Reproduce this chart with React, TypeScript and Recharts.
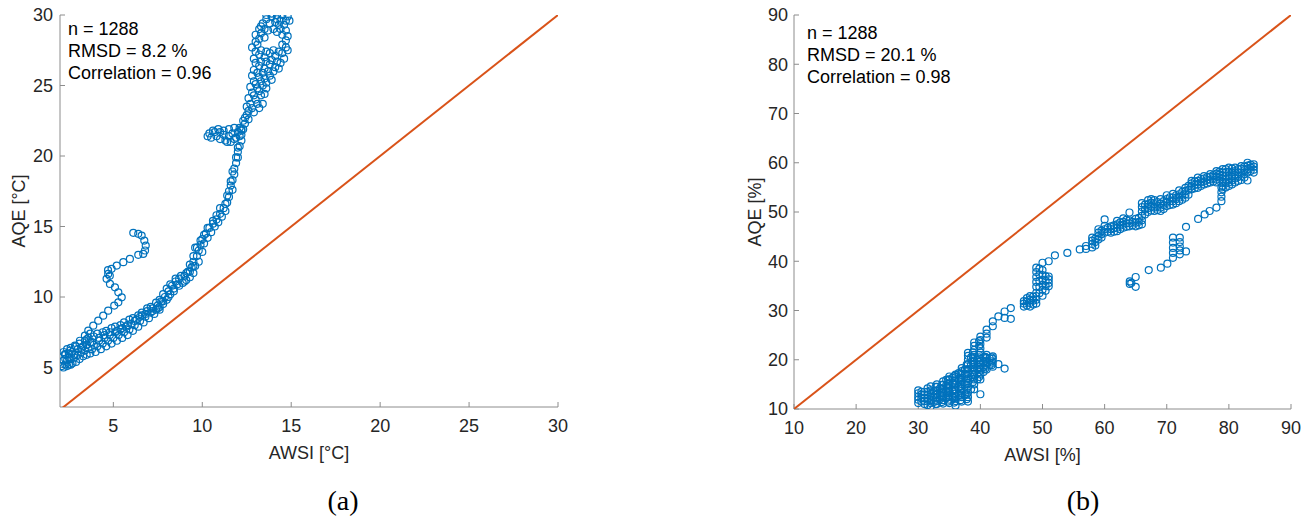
import { ScatterChart, Scatter, XAxis, YAxis, Label } from 'recharts';

type Pt = [number, number];

const tempTicks = [5, 10, 15, 20, 25, 30];
const humTicks = [10, 20, 30, 40, 50, 60, 70, 80, 90];

const tempStats = ['n = 1288', 'RMSD = 8.2 %', 'Correlation = 0.96'];
const humStats = ['n = 1288', 'RMSD = 20.1 %', 'Correlation = 0.98'];

const tempIdentity: Pt[] = [[2, 2], [30, 30]];
const humIdentity: Pt[] = [[10, 10], [90, 90]];

// (a) main band, low part
const tempBand: Pt[] = [
  [2.1, 5.1], [2.2, 5.5], [2.3, 5.2], [2.3, 5.9], [2.4, 5.5], [2.5, 5.2], [2.5, 6.0], [2.6, 5.6],
  [2.7, 5.3], [2.7, 6.1], [2.8, 5.7], [2.9, 5.4], [3.0, 5.9], [3.0, 6.3], [3.1, 5.6], [3.2, 6.1],
  [3.3, 5.8], [3.3, 6.5], [3.4, 6.2], [3.5, 5.9], [3.6, 6.4], [3.7, 6.0], [3.7, 6.8], [3.8, 6.3],
  [3.9, 6.6], [4.0, 6.1], [4.1, 6.5], [4.2, 6.9], [4.3, 6.3], [4.4, 6.7], [4.5, 7.1], [4.6, 6.5],
  [4.7, 6.9], [4.8, 7.3], [4.9, 6.7], [5.0, 7.1], [5.1, 7.5], [5.2, 6.9], [5.3, 7.3], [5.4, 7.7],
  [5.5, 7.1], [5.6, 7.5], [5.7, 7.9], [5.8, 7.3], [5.9, 7.7], [6.0, 8.1], [6.1, 7.6], [6.2, 8.0],
  [6.3, 8.4], [6.4, 7.9], [6.5, 8.3], [6.6, 8.7], [6.7, 8.2], [6.8, 8.6], [6.9, 9.0], [7.0, 8.5],
  [7.1, 8.9], [7.2, 9.2], [7.3, 8.8], [7.4, 9.1], [7.5, 9.4], [7.6, 9.1], [7.6, 9.3], [7.7, 9.7],
  [7.8, 9.5], [7.9, 10.0], [8.0, 9.8], [8.1, 10.4], [8.2, 10.2], [8.3, 10.8], [8.4, 10.6], [8.5, 11.1],
  [8.6, 10.9], [8.7, 11.3], [8.9, 11.0], [9.0, 11.5], [9.1, 11.2], [9.2, 11.8], [9.3, 11.4], [9.4, 12.1],
  [9.5, 11.7], [9.5, 12.5], [9.6, 12.2], [9.7, 12.9], [9.8, 12.5], [9.8, 13.3],
];

// (a) upper edge and middle of the low band
const tempBandUpper: Pt[] = [
  [2.2, 6.1], [2.4, 6.3], [2.6, 6.4], [2.9, 6.5], [3.1, 6.7], [3.4, 6.9], [3.6, 7.1], [3.9, 7.2],
  [4.1, 7.4], [4.4, 7.5], [4.6, 7.6], [4.9, 7.8], [5.1, 7.9], [5.4, 8.0], [5.6, 8.2], [5.9, 8.4],
  [6.1, 8.5], [6.4, 8.7], [6.6, 8.9], [6.9, 9.2], [7.1, 9.3], [7.4, 9.6], [7.6, 9.8], [7.8, 10.2],
  [8.0, 10.6], [8.2, 10.9], [8.5, 11.3], [8.8, 11.5], [9.1, 11.7], [9.3, 12.3], [9.5, 12.9], [9.6, 13.5],
];
const tempBandMid: Pt[] = [
  [2.2, 5.0], [2.4, 5.1], [2.6, 5.2], [2.3, 5.6], [2.5, 5.7], [2.8, 5.9], [3.2, 6.4], [3.5, 6.6],
  [3.8, 6.8], [4.2, 7.1], [4.5, 7.3], [4.8, 7.5], [5.2, 7.6], [5.5, 7.8], [5.8, 8.0], [6.2, 8.3],
  [6.5, 8.6], [6.8, 8.8], [7.2, 9.0], [7.5, 9.2], [7.8, 9.7], [8.1, 10.0], [8.4, 10.4], [8.7, 10.8],
  [9.0, 11.1], [9.3, 11.8], [9.5, 12.2],
];

// (a) rising path up to the top cluster
const tempRise: Pt[] = [
  [9.9, 13.7], [10.0, 13.2], [10.0, 14.1], [10.1, 13.8], [10.2, 14.5], [10.3, 14.2], [10.4, 14.9],
  [10.5, 14.6], [10.6, 15.2], [10.7, 15.0], [10.8, 15.5], [10.9, 15.3], [11.0, 15.9], [11.1, 15.7],
  [11.2, 16.3], [11.3, 16.1], [11.4, 16.7], [11.5, 17.1], [11.5, 17.5], [11.6, 17.9], [11.7, 17.6],
  [11.7, 18.3], [11.8, 18.7], [11.8, 19.1], [11.9, 19.5], [12.0, 19.9], [12.0, 20.3], [12.1, 20.7],
  [12.2, 21.1], [12.2, 21.5], [12.3, 21.9], [12.4, 22.3], [12.4, 22.7],
  [9.7, 13.5], [9.9, 14.0], [10.1, 14.4], [10.3, 14.9], [10.6, 15.4], [10.8, 15.8], [11.0, 16.3],
  [11.3, 16.6], [11.4, 17.2], [11.6, 18.2], [11.7, 18.9], [11.9, 19.9], [12.0, 20.6], [12.2, 21.9],
  [12.3, 22.5], [12.5, 22.9], [12.6, 22.6],
];

const tempOffshoot: Pt[] = [
  [10.4, 21.6], [10.5, 21.3], [10.7, 21.7], [10.8, 21.4], [11.0, 21.7], [11.0, 21.2], [11.2, 21.5],
  [11.3, 21.1], [11.5, 21.4], [11.6, 21.0], [11.7, 21.6], [11.9, 21.3], [12.0, 21.7], [12.1, 22.0],
  [11.8, 22.0], [10.6, 21.8], [10.9, 21.9], [11.2, 21.8], [11.5, 21.9], [11.4, 21.0], [11.8, 21.2],
  [12.1, 21.4], [12.2, 21.8], [10.3, 21.4],
];

const tempTop: Pt[] = [
  [12.6, 23.2], [12.9, 23.1], [13.2, 23.4], [13.4, 23.7], [12.7, 23.7], [13.0, 24.0], [13.3, 24.3],
  [12.8, 24.5], [13.1, 24.8], [13.4, 25.0], [13.6, 24.8], [12.9, 25.3], [13.2, 25.6], [13.5, 25.5],
  [13.8, 25.7], [12.9, 26.1], [13.2, 26.4], [13.5, 26.2], [13.8, 26.5], [14.1, 26.3], [14.4, 26.6],
  [12.9, 26.9], [13.2, 27.2], [13.5, 27.0], [13.8, 27.3], [14.1, 27.1], [14.5, 27.3], [14.7, 27.7],
  [12.8, 27.7], [13.0, 28.1], [14.7, 28.2], [14.5, 28.6], [14.2, 28.8], [13.0, 28.6], [13.2, 29.0],
  [13.4, 29.4], [13.6, 29.7], [13.9, 29.9], [14.2, 30.0], [14.5, 30.0], [14.8, 29.9], [14.9, 29.6],
  [14.6, 29.3], [14.3, 29.3], [14.0, 29.0], [13.7, 28.9], [13.5, 28.4],
  [12.5, 23.5], [12.8, 23.4], [13.1, 23.7], [12.6, 24.1], [12.9, 24.3], [13.2, 24.6], [13.5, 24.4],
  [12.7, 24.9], [13.0, 25.1], [13.3, 25.3], [13.6, 25.2], [13.9, 25.4], [12.8, 25.7], [13.1, 25.9],
  [13.4, 25.9], [13.7, 26.0], [14.0, 26.0], [14.3, 26.2], [13.0, 26.6], [13.3, 26.7], [13.6, 26.7],
  [13.9, 26.8], [14.2, 26.7], [14.6, 26.9], [13.0, 27.4], [13.3, 27.5], [13.6, 27.4], [14.0, 27.5],
  [14.3, 27.4], [14.8, 27.5], [13.1, 27.9], [14.5, 27.9], [14.8, 28.5], [13.2, 28.3], [13.3, 28.7],
  [14.4, 29.0], [14.7, 28.9], [13.3, 29.2], [13.5, 29.0], [13.8, 29.4], [14.1, 29.5], [14.4, 29.6],
  [14.7, 29.6], [13.6, 30.0], [13.9, 30.1], [14.2, 29.7],
];

// (a) sparse arm on the left
const tempArm: Pt[] = [
  [2.28, 5.96], [2.56, 6.19], [2.84, 6.55], [3.12, 6.9], [3.4, 7.26], [3.59, 7.61], [3.87, 7.97],
  [4.15, 8.32], [4.43, 8.68], [4.71, 9.03], [5.05, 9.39], [5.28, 9.62], [5.47, 9.98], [5.28, 10.33],
  [5.09, 10.69], [4.81, 10.93], [4.62, 11.29], [4.71, 11.64], [4.9, 12.0], [5.19, 12.23],
  [5.56, 12.47], [5.93, 12.7], [6.4, 12.99], [6.68, 13.06], [6.78, 13.3], [6.82, 13.65], [6.74, 14.0],
  [6.59, 14.36], [6.4, 14.48], [6.12, 14.55], [4.8, 11.5], [4.7, 11.9], [3.5, 7.0], [3.7, 7.4],
];

// (b) low cluster, columns of x with their y values
const humLowColumns: [number, number[]][] = [
  [30, [11.2, 11.9, 12.5, 13.2, 13.8]],
  [30.5, [11.5, 12.2, 12.9, 13.5]],
  [31, [11.0, 11.6, 12.2, 12.9, 13.5]],
  [31.5, [10.8, 11.5, 12.1, 12.8, 13.5, 14.2]],
  [32, [10.5, 11.2, 11.8, 12.5, 13.1, 13.8, 14.6]],
  [32.5, [11.4, 12.3, 13.6]],
  [32.8, [11.0, 11.9, 12.8, 13.7, 14.5]],
  [33, [11.0, 11.6, 12.3, 13.0, 13.8, 14.5, 15.0]],
  [33.5, [12.0, 13.2, 14.2]],
  [33.8, [11.4, 12.3, 13.2, 14.0, 14.9]],
  [34, [11.1, 11.8, 12.6, 13.3, 14.1, 14.9, 15.6]],
  [34.5, [12.2, 13.5, 14.8, 15.9]],
  [34.8, [11.5, 12.4, 13.3, 14.2, 15.1, 16.0]],
  [35, [11.2, 11.9, 12.7, 13.5, 14.3, 15.1, 15.9, 16.6]],
  [35.5, [12.5, 13.8, 15.2, 16.3]],
  [35.8, [11.3, 12.2, 13.1, 14.0, 14.9, 15.8, 16.7]],
  [36, [10.7, 11.6, 12.4, 13.2, 14.0, 14.9, 15.7, 16.5, 17.0]],
  [36.5, [12.8, 14.4, 16.1, 17.3]],
  [36.8, [11.8, 12.7, 13.6, 14.5, 15.4, 16.3, 17.2]],
  [37, [11.5, 12.4, 13.3, 14.2, 15.1, 16.0, 16.9, 17.7, 18.3]],
  [37.5, [13.0, 15.0, 17.0, 18.0]],
  [37.8, [12.0, 13.0, 14.0, 15.0, 16.0, 17.0, 18.0, 19.0]],
  [38, [11.5, 12.4, 13.3, 14.3, 15.3, 16.2, 17.2, 18.1, 19.1, 20.0, 20.8, 21.4]],
  [38.5, [14.0, 16.5, 19.0, 20.5]],
  [38.8, [15.5, 16.5, 17.5, 18.5, 19.5, 20.5, 21.5]],
  [39, [14.0, 15.0, 16.0, 17.0, 18.0, 19.0, 19.8, 21.0, 22.0, 22.8, 23.5]],
  [39.5, [16.0, 18.0, 20.0]],
  [39.8, [16.5, 17.5, 18.5, 19.5, 20.5, 21.0, 22.8, 23.8]],
  [40, [13.0, 16.0, 17.0, 18.0, 19.0, 19.8, 21.5, 22.3, 23.2, 24.0, 24.7]],
  [40.5, [17.5, 18.5, 19.5, 20.5]],
  [40.8, [18.2, 19.0, 19.8, 20.6]],
  [41, [18.0, 18.8, 19.6, 20.4, 21.0, 24.5, 25.3, 26.1]],
  [41.5, [19.0, 20.3]],
  [41.8, [18.9, 19.7, 20.5]],
  [42, [18.6, 19.4, 20.2, 20.7, 26.8, 27.8]],
  [42.9, [19.1, 28.8]],
  [43.9, [18.2, 28.5, 29.8]],
  [44.9, [28.3, 30.5]],
];

// (b) upper band
const humBandColumns: [number, number[]][] = [
  [47, [30.8, 31.4, 31.9]],
  [47.5, [31.0, 31.8, 32.5]],
  [48, [30.8, 31.5, 32.2, 32.9]],
  [48.5, [31.2, 32.0, 32.8]],
  [49, [31.4, 32.2, 32.9, 33.6, 34.8, 35.8, 36.8, 37.8, 38.7]],
  [49.5, [33.5, 34.8, 36.0, 37.3, 38.5]],
  [50, [33.0, 34.2, 35.2, 36.2, 37.2, 38.2, 39.7]],
  [50.5, [34.0, 35.0, 36.0, 37.0]],
  [51, [34.9, 35.6, 36.3, 36.9, 40.0]],
  [52, [41.2]],
  [54, [41.7]],
  [56, [42.4]],
  [57, [42.5, 43.1]],
  [58, [42.8, 43.5, 44.2, 44.8]],
  [58.5, [43.2, 43.9, 44.6]],
  [59, [44.4, 45.1, 45.8, 46.5]],
  [59.5, [44.8, 45.5, 46.2]],
  [60, [45.8, 46.5, 47.2, 48.5]],
  [60.5, [46.0, 46.8]],
  [61, [45.8, 46.5, 47.1]],
  [61.5, [46.0, 46.7, 47.3]],
  [62, [46.1, 46.8, 47.5, 48.2]],
  [62.5, [46.5, 47.2, 47.9]],
  [63, [46.8, 47.4, 48.0, 48.7]],
  [63.5, [47.0, 47.7, 48.4]],
  [64, [47.1, 47.7, 48.3, 49.9]],
  [64.5, [47.3, 48.0]],
  [65, [47.1, 47.8, 48.6]],
  [65.5, [47.3, 48.0, 48.8]],
  [66, [47.5, 48.3, 49.2, 50.1, 51.0, 51.8]],
  [66.5, [49.5, 50.5, 51.5]],
  [67, [50.0, 50.8, 51.6, 52.4]],
  [67.5, [50.3, 51.1, 51.9, 52.6]],
  [68, [50.2, 50.9, 51.6, 52.4]],
  [68.5, [50.4, 51.2, 52.0]],
  [69, [50.2, 50.9, 51.7, 52.6]],
  [69.5, [50.6, 51.4, 52.2]],
  [70, [51.2, 51.9, 52.6, 53.4]],
  [70.5, [51.4, 52.2, 53.0]],
  [71, [51.5, 52.2, 52.9, 53.7]],
  [71.5, [51.8, 52.6, 53.4]],
  [72, [52.2, 52.9, 53.6, 54.4]],
  [72.5, [52.5, 53.3, 54.1]],
  [73, [52.9, 53.6, 54.3, 54.9]],
  [73.5, [53.5, 54.5, 55.3]],
  [74, [54.6, 55.2, 55.8, 56.3]],
  [74.5, [54.8, 55.5, 56.2]],
  [75, [54.9, 55.6, 56.3, 57.0]],
  [75.5, [55.3, 56.0, 56.7]],
  [76, [55.6, 56.2, 56.8, 57.3]],
  [76.5, [55.8, 56.5, 57.1]],
  [77, [56.0, 56.6, 57.2, 57.7]],
  [77.5, [56.2, 56.9, 57.5]],
  [78, [56.0, 56.6, 57.2, 57.8, 58.3]],
  [78.5, [56.3, 57.0, 57.6, 58.2]],
  [79, [54.6, 55.3, 56.0, 56.7, 57.4, 58.0, 58.7]],
  [79.5, [55.0, 55.8, 56.5, 57.3, 58.1, 58.7]],
  [80, [55.3, 56.0, 56.7, 57.4, 58.2, 59.0]],
  [80.5, [55.6, 56.4, 57.2, 58.0, 58.8]],
  [81, [56.0, 56.8, 57.5, 58.3, 59.0]],
  [81.5, [56.3, 57.1, 58.0, 58.7]],
  [82, [56.5, 57.3, 58.0, 58.8, 59.3]],
  [82.5, [57.0, 57.7, 58.5, 59.2]],
  [83, [56.4, 58.0, 58.7, 59.4, 60.0]],
  [83.5, [58.3, 59.0, 59.6]],
  [84, [58.0, 58.6, 59.2, 59.7]],
];

// (b) branch dropping below the band
const humBranch: Pt[] = [
  [78.8, 55.0], [78.8, 54.0], [78.8, 53.1], [78.8, 52.2], [78.0, 50.9], [76.9, 50.2], [76.1, 49.5],
  [75.05, 48.6], [73.1, 47.0], [72.1, 44.8], [72.1, 43.9], [72.1, 43.0], [72.1, 42.2], [72.1, 41.4],
  [71.0, 44.8], [71.0, 43.8], [71.0, 42.7], [71.0, 41.7], [71.0, 40.7], [73.1, 42.0], [70.1, 39.5],
  [69.05, 38.7], [67.1, 38.2], [65.0, 36.8], [65.0, 34.8], [64.05, 35.4], [64.05, 35.9], [64.3, 35.6],
];

const toXY = (pts: Pt[]) => pts.map(([x, y]) => ({ x, y }));
const fromColumns = (cols: [number, number[]][]) =>
  cols.flatMap(([x, ys]) => ys.map((y) => ({ x, y })));

const tempPoints = toXY([
  ...tempBand, ...tempBandUpper, ...tempBandMid, ...tempRise, ...tempOffshoot, ...tempTop, ...tempArm,
]);
const humPoints = [...fromColumns(humLowColumns), ...fromColumns(humBandColumns), ...toXY(humBranch)];

const BLUE = '#0072BD';
const ORANGE = '#D95319';
const AXIS = '#8c8c8c';
const TEXT = '#262626';
const FONT = '"Liberation Sans", Arial, Helvetica, sans-serif';

const Ring = (props: any) => (
  <circle cx={props.cx} cy={props.cy} r={3.5} fill="none" stroke={BLUE} strokeWidth={1.2} />
);
const NoDot = () => <g />;

const tickStyle = { fill: TEXT, fontSize: 18, fontFamily: FONT };

export default function App() {
  return (
    <div style={{ position: 'absolute', left: 0, top: 0, width: 1312, height: 518, background: '#fff', fontFamily: FONT }}>
      <div style={{ position: 'absolute', left: 0, top: 0 }}>
        <ScatterChart width={656} height={518} margin={{ top: 15, right: 98, bottom: 51, left: 0 }}>
          <XAxis type="number" dataKey="x" domain={[2, 30]} ticks={tempTicks} allowDataOverflow interval={0}
            height={60} tickSize={-5} tickMargin={17} axisLine={{ stroke: AXIS }} tickLine={{ stroke: AXIS }} tick={tickStyle}>
            <Label value="AWSI [°C]" position="insideBottom" offset={8} fill={TEXT} fontSize={18} fontFamily={FONT} />
          </XAxis>
          <YAxis type="number" dataKey="y" domain={[2.2, 30]} ticks={tempTicks} allowDataOverflow interval={0}
            width={60} tickSize={-5} tickMargin={12} axisLine={{ stroke: AXIS }} tickLine={{ stroke: AXIS }} tick={tickStyle}>
            <Label value="AQE [°C]" angle={-90} position="insideLeft" offset={19} fill={TEXT} fontSize={18}
              fontFamily={FONT} style={{ textAnchor: 'middle' }} />
          </YAxis>
          <Scatter data={tempPoints} shape={Ring} isAnimationActive={false} />
          <Scatter data={toXY(tempIdentity)} line={{ stroke: ORANGE, strokeWidth: 2 }} shape={NoDot} isAnimationActive={false} />
        </ScatterChart>
      </div>
      <div style={{ position: 'absolute', left: 656, top: 0 }}>
        <ScatterChart width={656} height={518} margin={{ top: 15, right: 21, bottom: 49, left: 0 }}>
          <XAxis type="number" dataKey="x" domain={[10, 90]} ticks={humTicks} allowDataOverflow interval={0}
            height={60} tickSize={-5} tickMargin={17} axisLine={{ stroke: AXIS }} tickLine={{ stroke: AXIS }} tick={tickStyle}>
            <Label value="AWSI [%]" position="insideBottom" offset={8} fill={TEXT} fontSize={18} fontFamily={FONT} />
          </XAxis>
          <YAxis type="number" dataKey="y" domain={[10, 90]} ticks={humTicks} allowDataOverflow interval={0}
            width={138} tickSize={-5} tickMargin={11} axisLine={{ stroke: AXIS }} tickLine={{ stroke: AXIS }} tick={tickStyle}>
            <Label value="AQE [%]" angle={-90} position="insideLeft" offset={99} fill={TEXT} fontSize={18}
              fontFamily={FONT} style={{ textAnchor: 'middle' }} />
          </YAxis>
          <Scatter data={humPoints} shape={Ring} isAnimationActive={false} />
          <Scatter data={toXY(humIdentity)} line={{ stroke: ORANGE, strokeWidth: 2 }} shape={NoDot} isAnimationActive={false} />
        </ScatterChart>
      </div>
      <svg width={1312} height={518} style={{ position: 'absolute', left: 0, top: 0, pointerEvents: 'none' }}>
        {tempStats.map((s, i) => (
          <text key={'a' + i} x={68} y={35 + i * 22} fontSize={18} fontFamily={FONT} fill="#000">{s}</text>
        ))}
        {humStats.map((s, i) => (
          <text key={'b' + i} x={807} y={39 + i * 22} fontSize={18} fontFamily={FONT} fill="#000">{s}</text>
        ))}
        <text x={343} y={510} textAnchor="middle" fontSize={28} fontFamily='"Liberation Serif", serif' fill="#000">(a)</text>
        <text x={1083} y={510} textAnchor="middle" fontSize={28} fontFamily='"Liberation Serif", serif' fill="#000">(b)</text>
      </svg>
    </div>
  );
}
